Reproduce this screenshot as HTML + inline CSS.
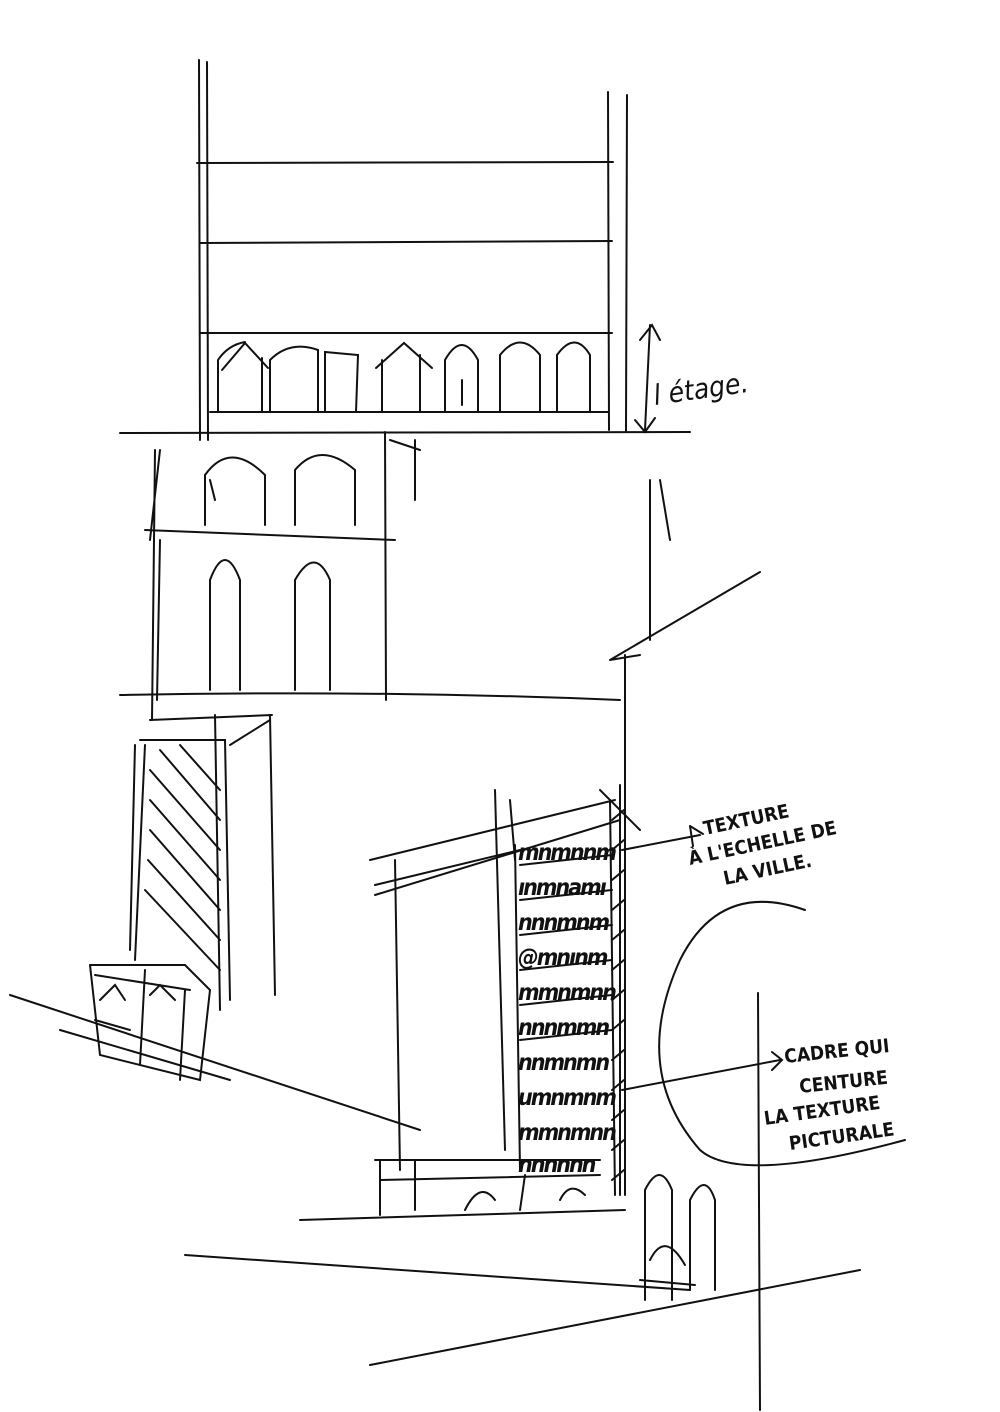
<!DOCTYPE html>
<html><head><meta charset="utf-8"><style>
html,body{margin:0;padding:0;background:#fff;}
svg{display:block;}
text{font-family:"DejaVu Sans Condensed","Liberation Sans",sans-serif;fill:#111;}
</style></head><body>
<svg width="1000" height="1412" viewBox="0 0 1000 1412" xmlns="http://www.w3.org/2000/svg">
<g stroke="#111" stroke-width="2" fill="none" stroke-linecap="round">
<path d="M199 60 L200 440 M207 62 L208 440 M608 92 L609 430 M627 95 L626 432"/>
<path d="M197 163 L613 162 M200 243 L612 241 M200 333 L612 333 M210 412 L608 412 M120 433 L690 432"/>
<path d="M218 412 L218 360 Q228 345 245 342 M262 412 L262 358 M222 370 L245 343 L268 368"/>
<path d="M270 412 L270 360 Q290 340 318 350 L318 412 M325 412 L325 352 L358 355 L356 412"/>
<path d="M382 412 L382 360 M376 368 L404 343 L432 368 M420 412 L420 355"/>
<path d="M445 412 L445 360 Q462 330 478 360 L478 412 M462 380 L462 405"/>
<path d="M500 412 L500 355 Q520 330 540 355 L540 412 M557 412 L557 355 Q575 330 590 355 L590 412"/>
<path d="M650 325 L645 430 M640 340 L652 325 L660 340 M635 420 L645 432 L655 418"/>
<path d="M155 450 L152 720 M160 540 L157 700 M385 432 L386 700 M650 480 L650 640 M415 440 L415 500 M145 530 L395 540 M150 540 L160 450"/>
<path d="M205 525 L205 475 Q230 440 265 475 L265 525 M210 480 L215 500 M295 525 L295 470 Q320 440 355 470 L355 525"/>
<path d="M210 690 L210 580 Q225 540 240 580 L240 690 M295 690 L295 580 Q315 545 330 580 L330 690"/>
<path d="M660 480 L670 540 M390 440 L420 450"/>
<path d="M120 695 Q380 690 620 700"/>
<path d="M610 660 L760 572 M625 655 L625 1195 M610 660 L640 655"/>
<path d="M140 740 L225 740 L230 1000 M135 745 L130 950 M145 745 L135 960 M150 720 L272 715 M270 715 L275 995 M215 715 L220 1010 M230 745 L270 720"/>
<path d="M150 770 L220 850 M150 800 L220 880 M150 830 L220 910 M148 860 L220 940 M145 890 L220 970 M160 750 L220 820 M180 745 L220 790"/>
<path d="M90 965 L185 965 L210 990 L200 1080 L100 1055 L90 965 M95 975 L190 990 M145 970 L140 1065 M185 990 L180 1080 M100 1000 L115 985 L125 1000 M150 995 L160 985 L175 1000 M95 1020 L130 1030"/>
<path d="M10 995 L420 1130 M60 1030 L230 1080 M185 1255 L690 1290 M370 1365 L860 1270 M300 1220 L625 1210"/>
<path d="M370 860 L615 800 M375 885 L520 850 M375 895 L620 820 M395 860 L400 1170 M510 800 L515 860 M495 790 L505 1150 M600 790 L640 830 M620 785 L620 1195"/>
<path d="M515 845 L520 1170 M610 800 L615 1195 M375 1160 L600 1160 M380 1180 L600 1175 M380 1160 L380 1215 M415 1160 L415 1210"/>
<path d="M612 820 L624 810 M612 850 L624 840 M612 880 L624 870 M612 910 L624 900 M612 940 L624 930 M612 970 L624 960 M612 1000 L624 990 M612 1030 L624 1020 M612 1060 L624 1050 M612 1090 L624 1080 M612 1120 L624 1110 M612 1150 L624 1140 M612 1180 L624 1170"/>
<path d="M520 865 L612 855 M520 900 L612 890 M520 935 L612 925 M520 970 L612 960 M520 1005 L612 995 M520 1040 L612 1030"/>
<path d="M622 850 L700 835 M690 826 L703 834 M693 846 L690 826"/>
<path d="M622 1090 L780 1060 M772 1052 L782 1060 L772 1070"/>
<path d="M805 910 Q720 880 680 960 Q630 1070 700 1150 Q740 1185 905 1140"/>
<path d="M758 993 L760 1410"/>
<path d="M645 1300 L645 1190 Q660 1160 672 1190 L672 1300 M690 1290 L690 1200 Q705 1170 715 1200 L715 1290 M650 1260 Q665 1230 685 1265 M640 1280 L695 1285"/>
<path d="M465 1210 Q480 1180 495 1200 M520 1210 L525 1175 M560 1200 Q570 1180 585 1195"/>
</g>
<g font-size="23" font-style="italic" font-weight="bold" letter-spacing="-2">
<text x="518" y="860">mnmnnm</text>
<text x="518" y="895">ınmnamı</text>
<text x="518" y="930">nnnmnm</text>
<text x="518" y="965">@mnınm</text>
<text x="518" y="1000">mmnmnn</text>
<text x="518" y="1035">nnnmmn</text>
<text x="518" y="1070">nnmnmn</text>
<text x="518" y="1105">umnmnm</text>
<text x="518" y="1140">mmnmnn</text>
<text x="518" y="1172">nnnnnn</text>
</g>
<text x="655" y="405" font-size="28" font-style="italic" transform="rotate(-8 655 405)">l étage.</text>
<g font-size="19" font-weight="bold" font-stretch="condensed">
<text x="705" y="835" transform="rotate(-12 705 835)">TEXTURE</text>
<text x="690" y="865" transform="rotate(-12 690 865)">À L'ECHELLE DE</text>
<text x="725" y="885" transform="rotate(-12 725 885)">LA VILLE.</text>
<text x="785" y="1063" transform="rotate(-6 785 1063)">CADRE QUI</text>
<text x="800" y="1093" transform="rotate(-6 800 1093)">CENTURE</text>
<text x="765" y="1125" transform="rotate(-8 765 1125)">LA TEXTURE</text>
<text x="790" y="1150" transform="rotate(-8 790 1150)">PICTURALE</text>
</g>
</svg>
</body></html>
